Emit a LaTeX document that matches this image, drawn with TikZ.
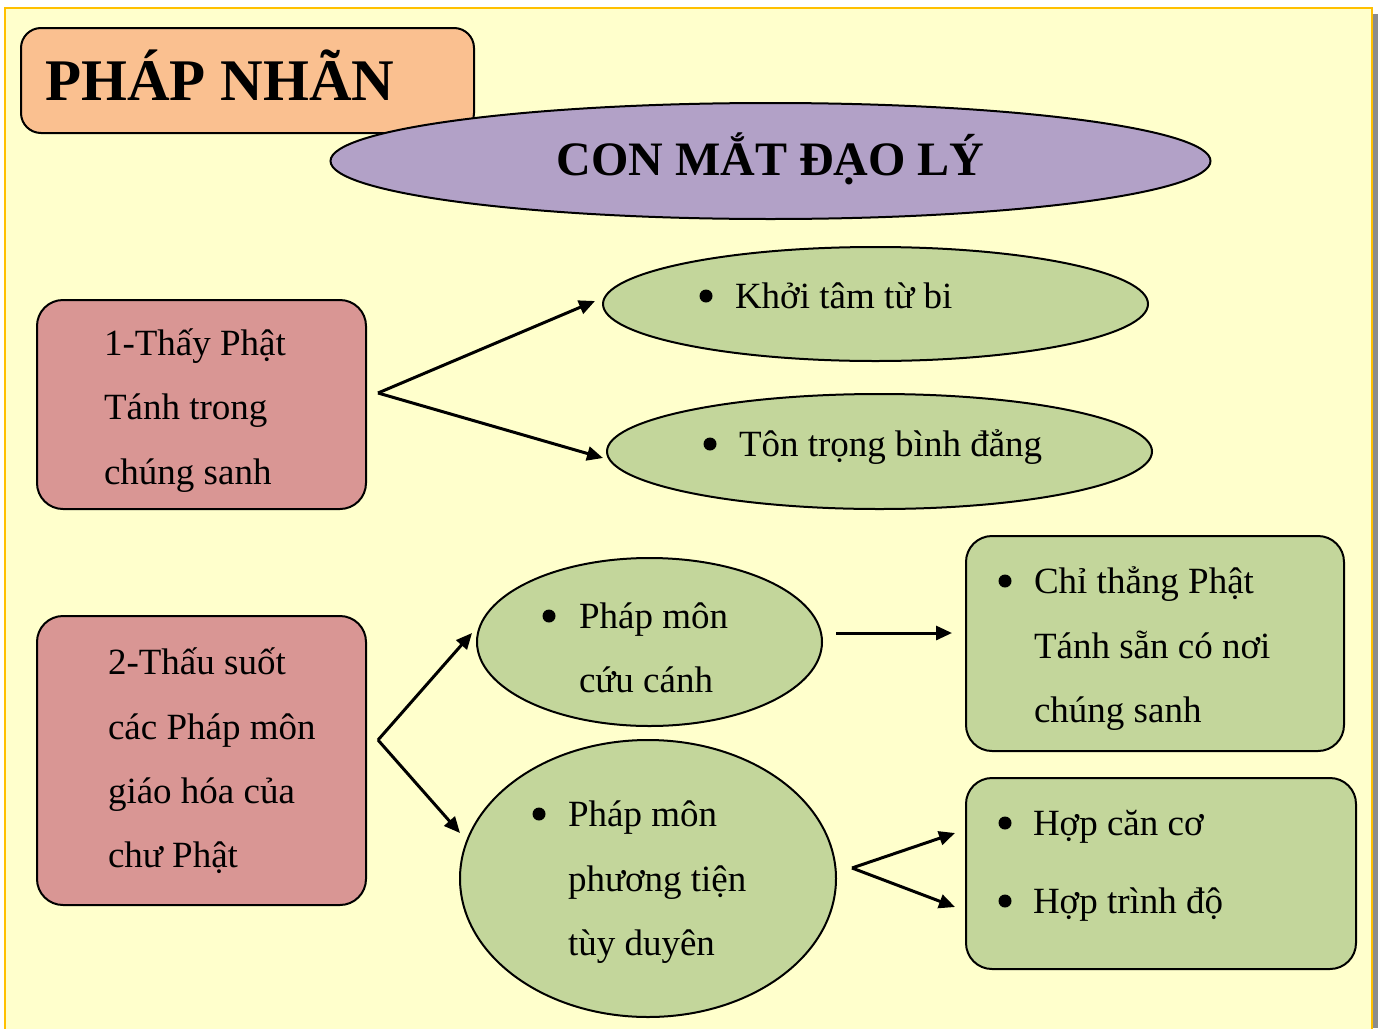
\documentclass[tikz,border=0pt]{standalone}
\usepackage{fontspec}
\setmainfont{Liberation Serif}
\usetikzlibrary{arrows.meta,shapes.geometric}
\definecolor{bgY}{HTML}{FFFFCC}
\definecolor{frameO}{HTML}{FFC000}
\definecolor{peach}{HTML}{FAC090}
\definecolor{lilac}{HTML}{B2A1C7}
\definecolor{rose}{HTML}{D99694}
\definecolor{leaf}{HTML}{C3D69B}
\tikzset{
  box/.style={draw=black,line width=2pt,rounded corners=26pt,inner sep=0pt,outer sep=0pt},
  oval/.style={draw=black,line width=2pt,ellipse,inner sep=0pt,outer sep=0pt},
  txt/.style={anchor=base west,inner sep=0pt,outer sep=0pt,font=\fontsize{37}{44}\selectfont},
  bul/.style={circle,fill=black,inner sep=0pt,outer sep=0pt,minimum size=13pt},
  conn/.style={line width=3pt,-{Triangle[length=16pt,width=14pt]}},
}
\begin{document}
\begin{tikzpicture}[x=1pt,y=-1pt]
\useasboundingbox (0,0) rectangle (1378,1028);
% slide background
\fill[white] (0,0) rectangle (1378,1028);
\fill[gray!90] (1372,14) rectangle (1378,1028);
\fill[bgY] (5,8) rectangle (1372,1030);
\draw[frameO,line width=2pt] (5,1035) -- (5,8) -- (1372,8) -- (1372,1035);
% title box
\node[box,fill=peach,rounded corners=20pt,minimum width=453pt,minimum height=105pt] (tbox) at (247.5,80.5) {};
\node[anchor=base west,inner sep=0pt,font=\fontsize{59}{60}\selectfont\bfseries] (ttl) at (45,100) {PHÁP NHÃN};
% purple ellipse
\node[oval,fill=lilac,minimum width=880pt,minimum height=116pt] (eye) at (770.5,161) {};
\node[anchor=base,inner sep=0pt,font=\fontsize{48}{50}\selectfont\bfseries] (eyet) at (770.5,175) {CON MẮT ĐẠO LÝ};
% box 1
\node[box,fill=rose,minimum width=329pt,minimum height=209pt] (b1) at (201.5,404.5) {};
\node[txt] (b1a) at (104,355) {1-Thấy Phật};
\node[txt] (b1b) at (104,419) {Tánh trong};
\node[txt] (b1c) at (104,484) {chúng sanh};
% ellipses 1
\node[oval,fill=leaf,minimum width=545pt,minimum height=114pt] (k1) at (875.5,304) {};
\node[bul] (k1b) at (706,296) {};
\node[txt] (k1t) at (735,308) {Khởi tâm từ bi};
\node[oval,fill=leaf,minimum width=545pt,minimum height=115pt] (k2) at (879.5,451.5) {};
\node[bul] (k2b) at (710,444) {};
\node[txt] (k2t) at (739,456) {Tôn trọng bình đẳng};
\coordinate (j1) at (378,393);
\coordinate (t11) at (595,301);
\coordinate (t12) at (603,458);
\draw[conn] (j1) -- (t11);
\draw[conn] (j1) -- (t12);
% box 2
\node[box,fill=rose,minimum width=329pt,minimum height=289pt] (b2) at (201.5,760.5) {};
\node[txt] (b2a) at (108,674) {2-Thấu suốt};
\node[txt] (b2b) at (108,739) {các Pháp môn};
\node[txt] (b2c) at (108,803) {giáo hóa của};
\node[txt] (b2d) at (108,867) {chư Phật};
% ellipse cuu canh
\node[oval,fill=leaf,minimum width=345pt,minimum height=168pt] (cc) at (649.5,642) {};
\node[bul] (ccb) at (549,616) {};
\node[txt] (cc1) at (579,628) {Pháp môn};
\node[txt] (cc2) at (579,692) {cứu cánh};
% ellipse phuong tien
\node[oval,fill=leaf,minimum width=376pt,minimum height=277pt] (pt) at (648,878.5) {};
\node[bul] (ptb) at (539,814) {};
\node[txt] (pt1) at (568,826) {Pháp môn};
\node[txt] (pt2) at (568,891) {phương tiện};
\node[txt] (pt3) at (568,955) {tùy duyên};
\coordinate (j2) at (378,740);
\coordinate (t21) at (472,633);
\coordinate (t22) at (460,833);
\draw[conn] (j2) -- (t21);
\draw[conn] (j2) -- (t22);
% box chi thang
\node[box,fill=leaf,minimum width=378pt,minimum height=215pt] (ct) at (1155,643.5) {};
\node[bul] (ctb) at (1005,581) {};
\node[txt] (ct1) at (1034,593) {Chỉ thẳng Phật};
\node[txt] (ct2) at (1034,658) {Tánh sẵn có nơi};
\node[txt] (ct3) at (1034,722) {chúng sanh};
\coordinate (s3) at (836,633);
\coordinate (t3) at (952,633);
\draw[conn] (s3) -- (t3);
% box hop
\node[box,fill=leaf,minimum width=390pt,minimum height=191pt] (hp) at (1161,873.5) {};
\node[bul] (hpb1) at (1005,823) {};
\node[txt] (hp1) at (1033,835) {Hợp căn cơ};
\node[bul] (hpb2) at (1005,901) {};
\node[txt] (hp2) at (1033,913) {Hợp trình độ};
\coordinate (j4) at (852,868);
\coordinate (t41) at (955,833);
\coordinate (t42) at (955,907);
\draw[conn] (j4) -- (t41);
\draw[conn] (j4) -- (t42);
\end{tikzpicture}
\end{document}
